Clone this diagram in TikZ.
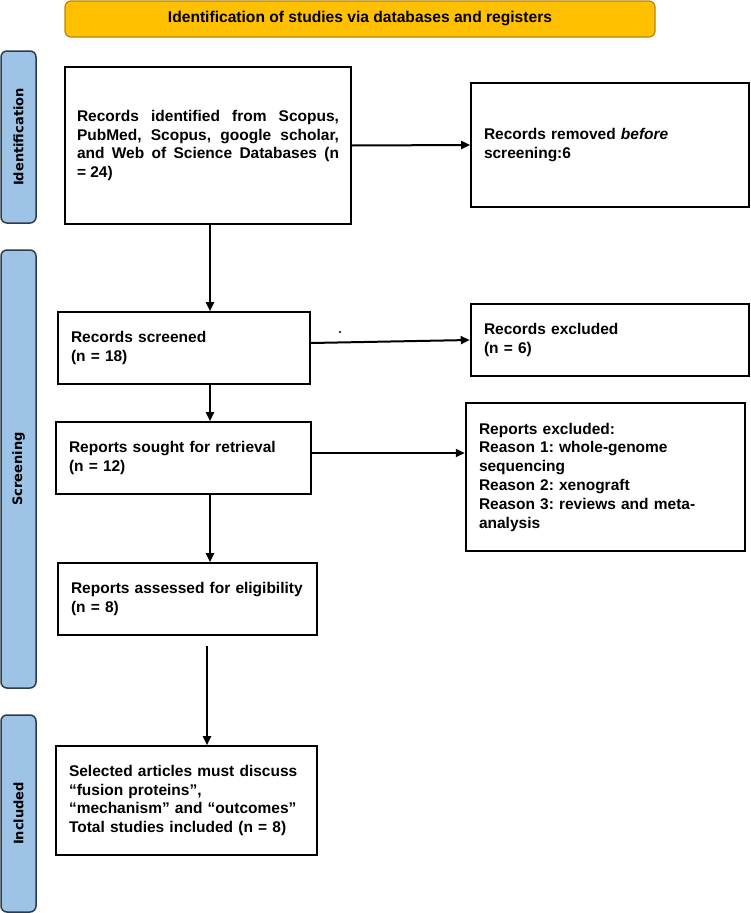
\documentclass[tikz,border=0pt]{standalone}
\usepackage{fontspec}
\setmainfont{Liberation Sans}
\newfontfamily\sidefont{DejaVu Sans}
\usetikzlibrary{arrows.meta}
\definecolor{bannerfill}{HTML}{FFC000}
\definecolor{bannerdraw}{HTML}{B8860B}
\definecolor{sidefill}{HTML}{9DC3E6}
\definecolor{sidedraw}{HTML}{2E3B4A}
\definecolor{dotblue}{HTML}{1F3864}
\frenchspacing
\begin{document}
\begin{tikzpicture}[x=1pt,y=-1pt,
  box/.style={draw=black, line width=1.6pt, rectangle, inner xsep=13pt, inner ysep=0pt,
    align=left, font=\frenchspacing\fontsize{15.5}{18.8}\selectfont\bfseries},
  heavybox/.style={box, line width=2.5pt},
  arr/.style={-{Triangle[length=9pt,width=8pt]}, line width=2pt},
  sidebar/.style={draw=sidedraw, fill=sidefill, line width=1.5pt, rounded corners=6pt,
    rotate=90, minimum height=35pt, inner sep=0pt, text=black,
    font=\sidefont\fontsize{13}{15}\selectfont\bfseries},
  banner/.style={draw=bannerdraw, fill=bannerfill, line width=1.2pt, rounded corners=6pt,
    minimum width=590pt, minimum height=36pt, inner sep=0pt,
    font=\fontsize{15.6}{17}\selectfont\bfseries}
  ]
\useasboundingbox (0,0) rectangle (750,913);

% banner
\node[banner] (ban) at (360,19) {Identification of studies via databases and registers};

% side bars
\node[sidebar, minimum width=172pt] (sid1) at (18.5,137) {Identification};
\node[sidebar, minimum width=438pt] (sid2) at (18.5,469) {Screening};
\node[sidebar, minimum width=197pt] (sid3) at (18.5,813.5) {Included};

% boxes
\node[box, align=justify, minimum width=286pt, minimum height=157pt, text width=262pt, inner xsep=12pt] (b1) at (208,145.5)
  {Records identified from Scopus,\linebreak PubMed, Scopus, google scholar,\linebreak and Web of Science Databases (n\linebreak = 24)};
\node[box, minimum width=278pt, minimum height=124pt, text width=252pt] (rem) at (610,145)
  {Records removed \textit{before}\\screening:6};
\node[box, minimum width=252pt, minimum height=72pt, text width=226pt] (scr) at (184,348)
  {Records screened\\(n = 18)};
\node[heavybox, minimum width=278pt, minimum height=72pt, text width=252pt] (exc1) at (610,340)
  {Records excluded\\(n = 6)};
\node[box, minimum width=255pt, minimum height=72pt, text width=229pt] (sou) at (183.5,458)
  {Reports sought for retrieval\\(n = 12)};
\node[heavybox, minimum width=279pt, minimum height=148pt, text width=253pt] (exc2) at (605.5,477)
  {Reports excluded:\\Reason 1: whole-genome\\sequencing\\Reason 2: xenograft\\Reason 3: reviews and meta-\\analysis};
\node[box, minimum width=259pt, minimum height=72pt, text width=233pt] (ass) at (187.5,599)
  {Reports assessed for eligibility\\(n = 8)};
\node[box, minimum width=261pt, minimum height=109pt, text width=235pt] (inc) at (186.5,800.5)
  {Selected articles must discuss\\“fusion proteins”,\\“mechanism” and “outcomes”\\Total studies included (n = 8)};

% connectors
\coordinate (vx) at (210,0);
\draw[arr] (b1.east) -- (rem.west);
\draw[arr] (vx |- b1.south) -- (vx |- scr.north);
\draw[arr] ([yshift=5pt]scr.east) -- (exc1.west);
\draw[arr] (vx |- scr.south) -- (vx |- sou.north);
\draw[arr] ([yshift=5pt]sou.east) -- ([yshift=5pt]sou.east -| exc2.west);
\draw[arr] (vx |- sou.south) -- (vx |- ass.north);
\coordinate (a0) at (207,646);
\draw[arr] (a0) -- (a0 |- inc.north);

% stray dot
\fill[dotblue] (340,332) circle (1.3pt);
\end{tikzpicture}
\end{document}
